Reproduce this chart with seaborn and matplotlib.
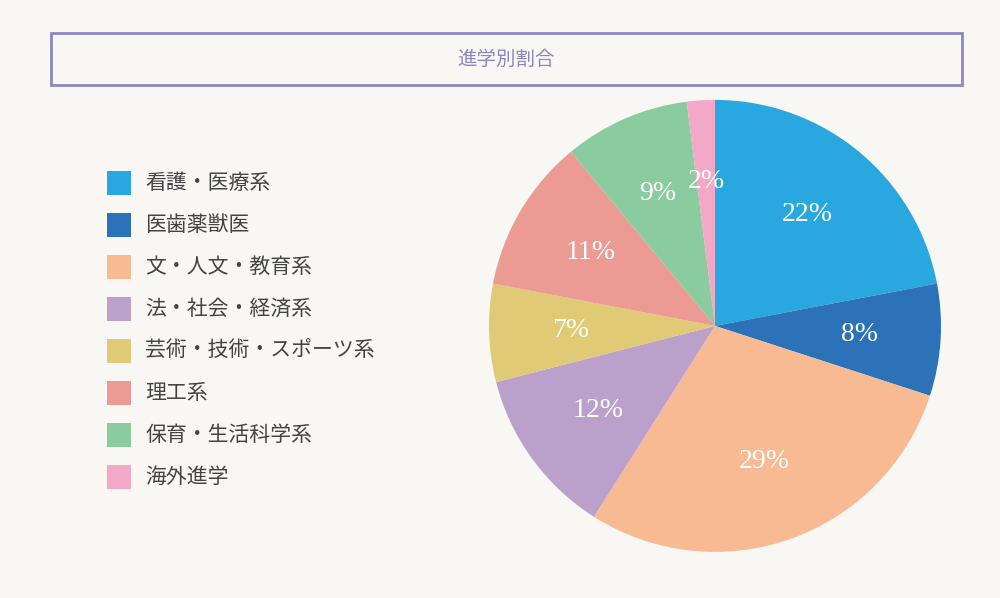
import matplotlib
matplotlib.use("Agg")
import matplotlib.pyplot as plt
import seaborn as sns
from matplotlib.patches import Rectangle

sns.set_theme(style="white")
plt.rcParams['font.family'] = ['Noto Sans CJK JP']

# データ
categories = ['看護・医療系', '医歯薬獣医', '文・人文・教育系', '法・社会・経済系',
              '芸術・技術・スポーツ系', '理工系', '保育・生活科学系', '海外進学']
values = [22, 8, 29, 12, 7, 11, 9, 2]
colors = ['#29A8E0', '#2B72B9', '#F7BA93', '#BBA0CC',
          '#E0CA76', '#EC9A94', '#8ACB9F', '#F3A8C8']
title = '進学別割合'

bg = '#F8F7F4'
fig = plt.figure(figsize=(10, 5.98), dpi=100, facecolor=bg)

# タイトル枠
fig.patches.append(Rectangle((0.051, 1 - 85 / 598), 0.911, 52 / 598, transform=fig.transFigure,
                             fill=False, edgecolor='#8C86C4', linewidth=2))
fig.text(0.506, 1 - 59 / 598, title, ha='center', va='center', fontsize=14, color='#8C86C4')

# 円グラフ
ax = fig.add_axes([0.489, 0.077, 0.452, 0.756])
wedges, texts, autotexts = ax.pie(values, colors=colors, startangle=90, counterclock=False,
                                  autopct='%d%%', pctdistance=0.64,
                                  wedgeprops={'linewidth': 0},
                                  textprops={'color': 'white', 'fontsize': 20,
                                             'family': 'Liberation Serif'})
ax.set_xlim(-1, 1)
ax.set_ylim(-1, 1)
ax.set_aspect('equal')
ax.axis('off')

# 凡例
for i, (cat, col) in enumerate(zip(categories, colors)):
    y = 1 - (183 + i * 42) / 598
    fig.patches.append(Rectangle((0.107, y - 12 / 598), 0.024, 24 / 598,
                                 transform=fig.transFigure, facecolor=col, edgecolor='none'))
    fig.text(0.145, y, cat, ha='left', va='center', fontsize=15, color='#444444')

fig.savefig('out.png', dpi=100, facecolor=bg)
